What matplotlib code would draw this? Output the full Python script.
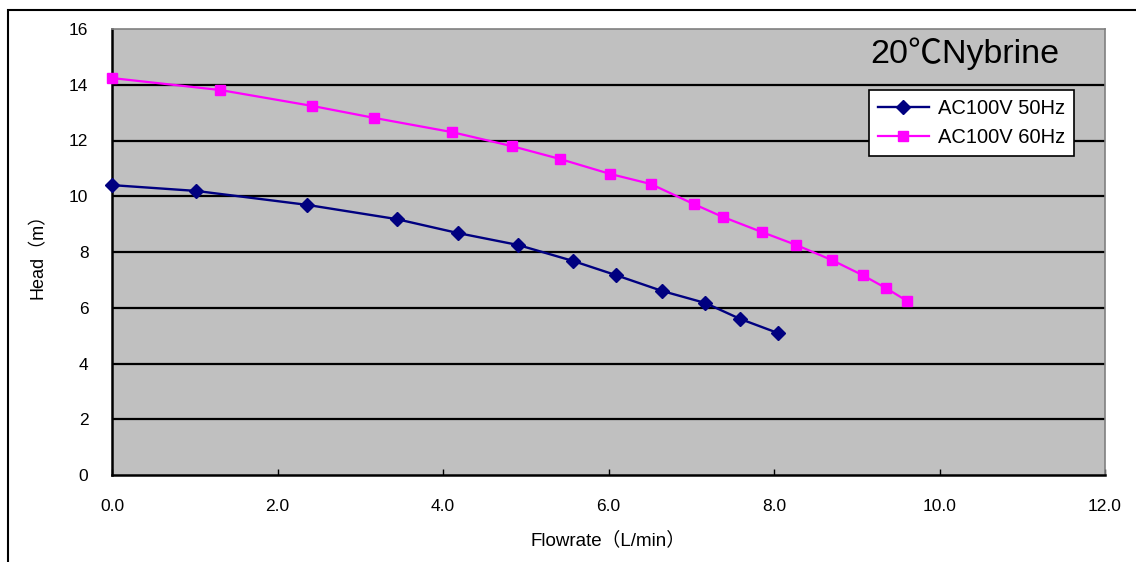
import matplotlib
matplotlib.use("Agg")
import matplotlib.pyplot as plt
from matplotlib.patches import Rectangle

plt.rcParams['font.family'] = ['Liberation Sans', 'Noto Sans CJK JP', 'DejaVu Sans']

flow_50 = [0.0, 1.02, 2.36, 3.44, 4.18, 4.91, 5.57, 6.09, 6.65, 7.17, 7.59, 8.05]
head_50 = [10.40, 10.19, 9.69, 9.18, 8.68, 8.25, 7.68, 7.17, 6.60, 6.17, 5.60, 5.09]

flow_60 = [0.0, 1.31, 2.42, 3.17, 4.11, 4.83, 5.41, 6.02, 6.51, 7.03, 7.38, 7.85, 8.27, 8.70, 9.07, 9.35, 9.61]
head_60 = [14.24, 13.81, 13.24, 12.81, 12.30, 11.80, 11.34, 10.80, 10.44, 9.72, 9.26, 8.72, 8.25, 7.71, 7.17, 6.71, 6.24]

series_labels = ["AC100V 50Hz", "AC100V 60Hz"]
x_ticks = [0, 2, 4, 6, 8, 10, 12]
x_ticklabels = ["0.0", "2.0", "4.0", "6.0", "8.0", "10.0", "12.0"]
y_ticks = [0, 2, 4, 6, 8, 10, 12, 14, 16]
title_text = "20℃Nybrine"
x_label = "Flowrate（L/min）"
y_label = "Head（m）"

W, H = 1136, 562
fig = plt.figure(figsize=(W / 100, H / 100), dpi=100)

# outer frame
fig.patches.append(Rectangle((8 / W, -0.05), 1.2, 1 - 10 / H + 0.05, transform=fig.transFigure,
                             fill=False, edgecolor='black', linewidth=1.5))

ax = fig.add_axes([112 / W, (H - 475) / H, (1105 - 112) / W, (475 - 29) / H])
ax.set_facecolor('#C0C0C0')
ax.set_xlim(0, 12)
ax.set_ylim(0, 16)

for y in y_ticks[1:-1]:
    ax.axhline(y, color='black', linewidth=1.6, zorder=1)

ax.plot(flow_50, head_50, color='#000080', marker='D', markersize=7, linewidth=1.7,
        label=series_labels[0], zorder=3, clip_on=False)
ax.plot(flow_60, head_60, color='#FF00FF', marker='s', markersize=7, linewidth=1.6,
        label=series_labels[1], zorder=3, clip_on=False)

ax.set_xticks(x_ticks)
ax.set_xticklabels(x_ticklabels, fontsize=12.5)
ax.set_yticks(y_ticks)
ax.set_yticklabels([str(v) for v in y_ticks], fontsize=12.5)
ax.tick_params(axis='x', direction='in', length=4, pad=17, width=1)
ax.tick_params(axis='y', length=0, pad=17)

for s in ['left', 'bottom']:
    ax.spines[s].set_color('black')
    ax.spines[s].set_linewidth(1.8)
for s in ['top', 'right']:
    ax.spines[s].set_color('#808080')
    ax.spines[s].set_linewidth(1.2)

ax.set_xlabel(x_label, fontsize=13.5, labelpad=13)
ax.set_ylabel(y_label, fontsize=13, labelpad=16)

ax.text(0.859, (475 - 63) / 446, title_text, transform=ax.transAxes, ha='center',
        va='baseline', fontsize=24.5)

leg = ax.legend(loc='upper right', bbox_to_anchor=((1074 - 112) / 993, (475 - 90) / 446),
                borderaxespad=0, fancybox=False, framealpha=1, edgecolor='black',
                fontsize=14.5, handlelength=2.5, borderpad=0.45, labelspacing=0.5,
                handletextpad=0.45)
leg.get_frame().set_linewidth(1.2)

fig.savefig('out.png', dpi=100)
